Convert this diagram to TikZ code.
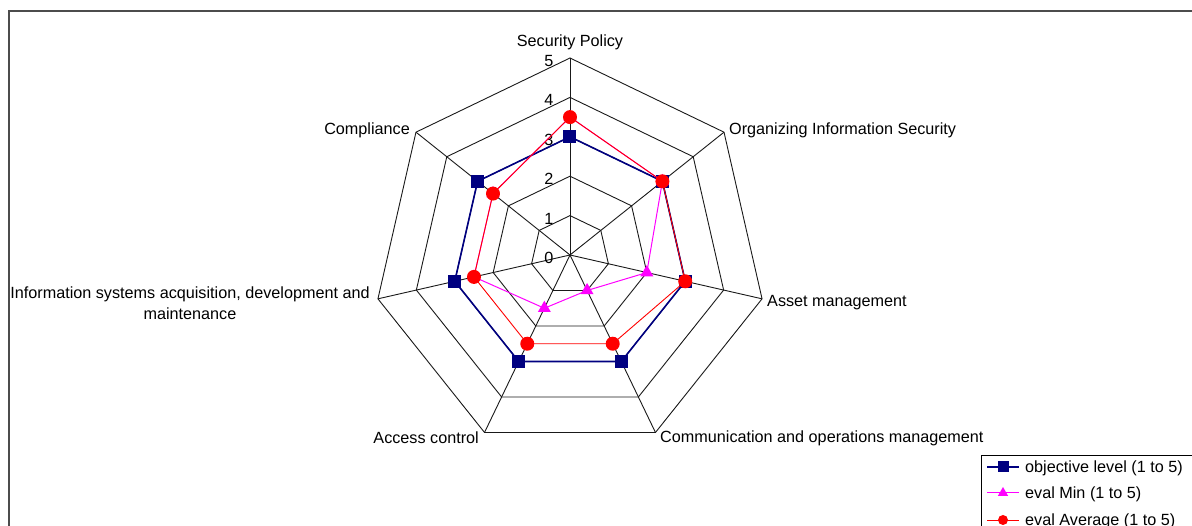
\documentclass[tikz,border=0pt]{standalone}
\usepackage{fontspec}
\setmainfont{Liberation Sans}
\usetikzlibrary{shapes.geometric}
\definecolor{objnavy}{RGB}{0,0,128}
\definecolor{minpink}{RGB}{255,0,255}
\definecolor{avgred}{RGB}{255,0,0}

\begin{document}
\begin{tikzpicture}[x=1pt,y=1pt,font=\fontsize{16.2}{21}\selectfont,
    gridline/.style={black!90,line width=0.9pt},
    objline/.style={objnavy,line width=1.6pt},
    minline/.style={minpink,line width=1pt},
    avgline/.style={avgred,line width=0.9pt},
    objmark/.style={rectangle,fill=objnavy,inner sep=0pt,minimum size=13pt},
    minmark/.style={regular polygon,regular polygon sides=3,fill=minpink,inner sep=0pt,minimum size=15pt},
    avgmark/.style={circle,fill=avgred,inner sep=0pt,minimum size=14pt},
    lab/.style={inner sep=0pt}]
    \useasboundingbox (-570,-271) rectangle (622,255);
    \clip (-570,-271) rectangle (622,255);
    \draw[black!70,line width=1.4pt] (-561,-271) -- (-561,244) -- (622,244);

    \foreach \k in {1,...,5}
        \draw[gridline] (90:\k*39.4) \foreach \i in {1,...,6} { -- (90-\i*360/7:\k*39.4) } -- cycle;
    \foreach \i in {0,...,6}
        \draw[gridline] (0,0) -- (90-\i*360/7:197);
    \foreach \k in {0,...,5}
        \node[lab] (n\k) at (-21,\k*39.4-3) {\k};

    \node[lab] (sp) at (0,213) {Security Policy};
    \node[lab,anchor=west] (ois) at (159,125) {Organizing Information Security};
    \node[lab,anchor=west] (am) at (197,-48) {Asset management};
    \node[lab,anchor=west] (com) at (90,-183) {Communication and operations management};
    \node[lab,anchor=east] (ac) at (-91,-183) {Access control};
    \node[lab,align=center] (isa) at (-380,-48) {Information systems acquisition, development and\\maintenance};
    \node[lab,anchor=east] (cp) at (-160,125) {Compliance};

    \foreach \v [count=\i from 0] in {3,3,3,3,3,3,3}
        \coordinate (o\i) at (90-\i*360/7:\v*39.4);
    \foreach \v [count=\i from 0] in {3.5,3,2,1,1.5,2.5,2.5}
        \coordinate (m\i) at (90-\i*360/7:\v*39.4);
    \foreach \v [count=\i from 0] in {3.5,3,3,2.5,2.5,2.5,2.5}
        \coordinate (a\i) at (90-\i*360/7:\v*39.4);

    \draw[objline] (o0) -- (o1) -- (o2) -- (o3) -- (o4) -- (o5) -- (o6) -- cycle;
    \foreach \i in {0,...,6}
        \node[objmark] (om\i) at (o\i) {};
    \draw[minline] (m0) -- (m1) -- (m2) -- (m3) -- (m4) -- (m5) -- (m6) -- cycle;
    \foreach \i in {0,...,6}
        \node[minmark] (mm\i) at (m\i) {};
    \draw[avgline] (a0) -- (a1) -- (a2) -- (a3) -- (a4) -- (a5) -- (a6) -- cycle;
    \foreach \i in {0,...,6}
        \node[avgmark] (am\i) at (a\i) {};

    \draw[black,line width=0.8pt] (411,-271) -- (411,-200) -- (622,-200);
    \coordinate (ls1) at (417,-212);
    \coordinate (le1) at (449,-212);
    \coordinate (ls2) at (417,-238);
    \coordinate (le2) at (449,-238);
    \coordinate (ls3) at (417,-265);
    \coordinate (le3) at (449,-265);
    \draw[objline,line width=1.2pt] (ls1) -- (le1);
    \node[objmark,minimum size=11pt] (lm1) at (433,-212) {};
    \node[lab,anchor=west] (lt1) at (455,-213) {objective level (1 to 5)};
    \draw[minline] (ls2) -- (le2);
    \node[minmark,minimum size=12pt] (lm2) at (433,-238) {};
    \node[lab,anchor=west] (lt2) at (455,-239) {eval Min (1 to 5)};
    \draw[avgline] (ls3) -- (le3);
    \node[avgmark,minimum size=10pt] (lm3) at (433,-265) {};
    \node[lab,anchor=west] (lt3) at (455,-266) {eval Average (1 to 5)};
\end{tikzpicture}
\end{document}
